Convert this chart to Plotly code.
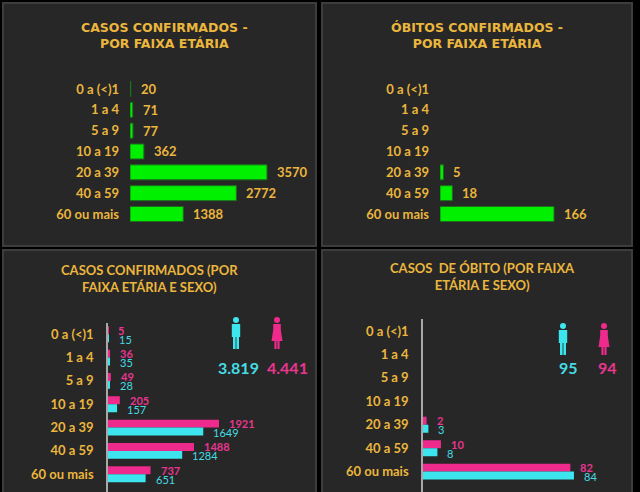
import plotly.graph_objects as go

W, H = 640, 492

# ---------------- data ----------------
categories = ["0 a (<)1", "1 a 4", "5 a 9", "10 a 19", "20 a 39", "40 a 59", "60 ou mais"]
casos_total = [20, 71, 77, 362, 3570, 2772, 1388]
obitos_total = [None, None, None, None, 5, 18, 166]
casos_fem = [5, 36, 49, 205, 1921, 1488, 737]
casos_masc = [15, 35, 28, 157, 1649, 1284, 651]
obitos_fem = [None, None, None, None, 2, 10, 82]
obitos_masc = [None, None, None, None, 3, 8, 84]

title_tl = "CASOS CONFIRMADOS -<br>POR FAIXA ETÁRIA"
title_tr = "ÓBITOS CONFIRMADOS -<br>POR FAIXA ETÁRIA"
title_bl = "CASOS CONFIRMADOS (POR<br>FAIXA ETÁRIA E SEXO)"
title_br = "CASOS  DE ÓBITO (POR FAIXA<br>ETÁRIA E SEXO)"

# ---------------- style ----------------
GOLD = "#EBB63D"
GREEN = "#00F000"
GREEN_EDGE = "#1d6b1d"
PINK = "#EE2A8C"
CYAN = "#3DE6EE"
PINK_TXT = "#E8358F"
CYAN_TXT = "#46DCE4"
PANEL = "#272727"
PANEL_EDGE = "#3d3d3d"
FONT = "Lato"


def fmt(n):
    return f"{n:,}".replace(",", ".")


def px(x):
    return x / W


def py(y):
    return 1 - y / H


fig = go.Figure()

# top-left: casos confirmados
fig.add_trace(go.Bar(x=casos_total, y=categories, orientation="h", xaxis="x", yaxis="y",
                     width=0.72, marker=dict(color=GREEN, line=dict(color=GREEN_EDGE, width=1)),
                     hoverinfo="skip"))
# top-right: obitos
fig.add_trace(go.Bar(x=obitos_total, y=categories, orientation="h", xaxis="x2", yaxis="y2",
                     width=0.72, marker=dict(color=GREEN, line=dict(color=GREEN_EDGE, width=1)),
                     hoverinfo="skip"))
# bottom-left: casos por sexo
fig.add_trace(go.Bar(x=casos_fem, y=categories, orientation="h", xaxis="x3", yaxis="y3",
                     width=0.34, offset=-0.34, marker=dict(color=PINK, line=dict(width=0)),
                     hoverinfo="skip"))
fig.add_trace(go.Bar(x=casos_masc, y=categories, orientation="h", xaxis="x3", yaxis="y3",
                     width=0.34, offset=0.0, marker=dict(color=CYAN, line=dict(width=0)),
                     hoverinfo="skip"))
# bottom-right: obitos por sexo
fig.add_trace(go.Bar(x=obitos_fem, y=categories, orientation="h", xaxis="x4", yaxis="y4",
                     width=0.34, offset=-0.34, marker=dict(color=PINK, line=dict(width=0)),
                     hoverinfo="skip"))
fig.add_trace(go.Bar(x=obitos_masc, y=categories, orientation="h", xaxis="x4", yaxis="y4",
                     width=0.34, offset=0.0, marker=dict(color=CYAN, line=dict(width=0)),
                     hoverinfo="skip"))

annotations = []


def value_labels(vals, xref, yref, color, size, yshift=0, xshift=8, bold=True):
    for cat, v in zip(categories, vals):
        if v is None:
            continue
        annotations.append(dict(x=v, y=cat, xref=xref, yref=yref, text=str(v), showarrow=False,
                                xanchor="left", yanchor="middle", xshift=xshift, yshift=yshift,
                                font=dict(family=FONT, size=size, color=color,
                                          weight="bold" if bold else "normal")))


value_labels(casos_total, "x", "y", GOLD, 13)
value_labels(obitos_total, "x2", "y2", GOLD, 13)
value_labels(casos_fem, "x3", "y3", PINK_TXT, 11, yshift=4)
value_labels(casos_masc, "x3", "y3", CYAN_TXT, 11, yshift=-5, bold=False)
value_labels(obitos_fem, "x4", "y4", PINK_TXT, 11, yshift=4)
value_labels(obitos_masc, "x4", "y4", CYAN_TXT, 11, yshift=-5, bold=False)


def title(text, cx, cy, family, size):
    annotations.append(dict(x=px(cx), y=py(cy), xref="paper", yref="paper", text=text,
                            showarrow=False, xanchor="center", yanchor="middle", align="center",
                            font=dict(family=family, size=size, color=GOLD, weight="bold")))


title(title_tl, 164, 36, "DejaVu Sans", 12.5)
title(title_tr, 477, 35, "DejaVu Sans", 12.5)
title(title_bl, 149, 278, FONT, 13)
title(title_br, 482, 276, FONT, 13)


def total(text, cx, cy, color):
    annotations.append(dict(x=px(cx), y=py(cy), xref="paper", yref="paper", text=text,
                            showarrow=False, xanchor="center", yanchor="middle",
                            font=dict(family=FONT, size=16, color=color, weight="bold")))


masc_c = sum(v for v in casos_masc if v is not None)
fem_c = sum(v for v in casos_fem if v is not None)
masc_o = sum(v for v in obitos_masc if v is not None)
fem_o = sum(v for v in obitos_fem if v is not None)
total(fmt(masc_c), 238, 367, CYAN_TXT)
total(fmt(fem_c), 287, 367, PINK_TXT)
total(fmt(masc_o), 568, 367, CYAN_TXT)
total(fmt(fem_o), 607, 367, PINK_TXT)

shapes = []
# panels
for (x0, y0, x1, y1) in [(3, 3, 316, 246), (322, 3, 632, 246), (3, 250, 316, 496), (322, 250, 632, 496)]:
    shapes.append(dict(type="rect", xref="paper", yref="paper", x0=px(x0), x1=px(x1), y0=py(y1), y1=py(y0),
                       fillcolor=PANEL, line=dict(color=PANEL_EDGE, width=2), layer="below"))


def rect(x0, y0, x1, y1, color):
    shapes.append(dict(type="rect", xref="paper", yref="paper", x0=px(x0), x1=px(x1), y0=py(y1), y1=py(y0),
                       fillcolor=color, line=dict(width=0), layer="above"))


def circle(cx, cy, r, color):
    shapes.append(dict(type="circle", xref="paper", yref="paper", x0=px(cx - r), x1=px(cx + r),
                       y0=py(cy + r), y1=py(cy - r), fillcolor=color, line=dict(width=0), layer="above"))


def path(points, color):
    d = "M " + " L ".join(f"{px(a)},{py(b)}" for a, b in points) + " Z"
    shapes.append(dict(type="path", xref="paper", yref="paper", path=d, fillcolor=color,
                       line=dict(width=0), layer="above"))


def male(cx, top, color):
    circle(cx, top + 3, 3, color)
    rect(cx - 4.2, top + 7, cx + 4.2, top + 20, color)
    rect(cx - 3, top + 19, cx - 0.4, top + 32, color)
    rect(cx + 0.4, top + 19, cx + 3, top + 32, color)


def female(cx, top, color):
    circle(cx, top + 3, 3, color)
    rect(cx - 3.8, top + 7, cx + 3.8, top + 14, color)
    path([(cx - 3.8, top + 13), (cx + 3.8, top + 13), (cx + 5.5, top + 24), (cx - 5.5, top + 24)], color)
    rect(cx - 2.6, top + 23, cx - 0.4, top + 32, color)
    rect(cx + 0.4, top + 23, cx + 2.6, top + 32, color)


male(236, 317, CYAN)
female(277, 317, PINK)
male(563, 323, CYAN)
female(604, 323, PINK)

tickfont = dict(family=FONT, size=13, color=GOLD, weight="bold")
common_x = dict(visible=False, showgrid=False, zeroline=False, fixedrange=True)
common_y = dict(type="category", showgrid=False, zeroline=False, ticks="", tickfont=tickfont,
                ticklabelstandoff=10, fixedrange=True)

fig.update_layout(
    width=W, height=H,
    margin=dict(l=0, r=0, t=0, b=0),
    paper_bgcolor="#000000",
    plot_bgcolor="rgba(0,0,0,0)",
    showlegend=False,
    barmode="overlay",
    xaxis=dict(domain=[px(130), px(305)], range=[0, 4560], anchor="y", **common_x),
    yaxis=dict(domain=[py(224.4), py(78.6)], range=[6.5, -0.5], anchor="x", showline=False, **common_y),
    xaxis2=dict(domain=[px(440), px(610)], range=[0, 247.5], anchor="y2", **common_x),
    yaxis2=dict(domain=[py(224.4), py(78.6)], range=[6.5, -0.5], anchor="x2", showline=False, **common_y),
    xaxis3=dict(domain=[px(108), px(310)], range=[0, 3496], anchor="y3", **common_x),
    yaxis3=dict(domain=[0, py(322.6)], range=[6.76, -0.5], anchor="x3", showline=True,
                linecolor="#a8a8a8", linewidth=1.5, **common_y),
    xaxis4=dict(domain=[px(423), px(625)], range=[0, 112.4], anchor="y4", **common_x),
    yaxis4=dict(domain=[0, py(319.3)], range=[6.87, -0.5], anchor="x4", showline=True,
                linecolor="#a8a8a8", linewidth=1.5, **common_y),
    annotations=annotations,
    shapes=shapes,
)

fig.write_html(
    "out.html",
    config={"displayModeBar": False},
    post_script="document.body.style.margin='0';document.body.style.background='#000000';",
)
